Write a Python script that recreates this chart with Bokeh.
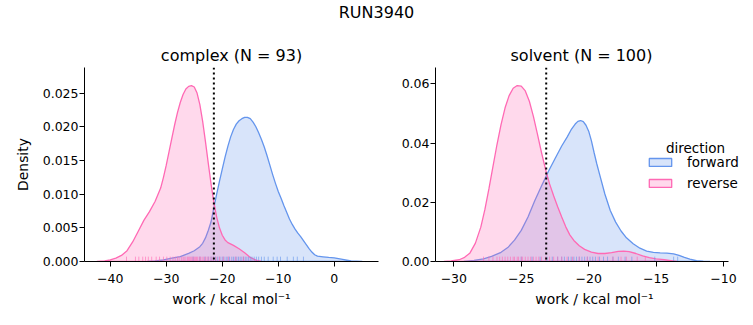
from bokeh.plotting import figure
from bokeh.models import Range1d, FixedTicker, Span, Legend, LegendItem, Div, Label, NumeralTickFormatter
from bokeh.layouts import column, row
from bokeh.embed import file_html
from bokeh.resources import INLINE

# ---------------- data ----------------
suptitle = "RUN3940"
panel_titles = ["complex (N = 93)", "solvent (N = 100)"]
x_label = "work / kcal mol\u207b\u00b9"
y_label = "Density"
legend_title = "direction"
directions = ["forward", "reverse"]

# KDE curves (work, density)
complex_forward_x = [-33.4, -32.0, -30.5, -29.0, -27.5, -26.0, -25.0, -24.0, -23.5, -23.0, -22.5, -22.0,
                     -21.5, -21.0, -20.5, -20.0, -19.5, -19.0, -18.5, -18.0, -17.5, -17.0, -16.5, -16.0,
                     -15.5, -15.0, -14.5, -14.0, -13.5, -13.0, -12.5, -12.0, -11.5, -11.0, -10.5, -10.0,
                     -9.5, -9.0, -8.5, -8.0, -7.5, -7.0, -6.5, -6.0, -5.5, -5.0, -4.5, -4.0, -3.5, -3.0,
                     -2.0, -1.0, 0.0, 1.0, 2.0, 3.0, 5.0]
complex_forward_d = [0.0, 0.0001, 0.00025, 0.0005, 0.00074, 0.0012, 0.0016, 0.0022, 0.0027, 0.0035, 0.0046, 0.0059,
                     0.0080, 0.0100, 0.0119, 0.0137, 0.0155, 0.0171, 0.0185, 0.0196, 0.0204, 0.0209, 0.0212, 0.0214,
                     0.0214, 0.0212, 0.0207, 0.0200, 0.0191, 0.0181, 0.0170, 0.0157, 0.0143, 0.0129, 0.0116, 0.0104,
                     0.0094, 0.0083, 0.0073, 0.0063, 0.0055, 0.0048, 0.0042, 0.0037, 0.0031, 0.0025, 0.0019, 0.0014,
                     0.0010, 0.0008, 0.0007, 0.0006, 0.00055, 0.0004, 0.00025, 0.0001, 0.0]
complex_reverse_x = [-42.4, -41.0, -40.0, -39.0, -38.0, -37.0, -36.0, -35.0, -34.0, -33.0, -32.0, -31.0,
                     -30.5, -30.0, -29.5, -29.0, -28.5, -28.0, -27.5, -27.0, -26.5, -26.0, -25.5, -25.0,
                     -24.5, -24.0, -23.5, -23.0, -22.5, -22.0, -21.5, -21.0, -20.5, -20.0, -19.5, -19.0,
                     -18.0, -17.0, -16.0, -15.0, -14.0, -13.0]
complex_reverse_d = [0.0, 0.0001, 0.00025, 0.0005, 0.0009, 0.0016, 0.0029, 0.0045, 0.0061, 0.0074, 0.0089, 0.0109,
                     0.0125, 0.0143, 0.0163, 0.0183, 0.0203, 0.0221, 0.0236, 0.0248, 0.0256, 0.0260, 0.0261, 0.0259,
                     0.0250, 0.0233, 0.0208, 0.0178, 0.0146, 0.0115, 0.0088, 0.0066, 0.0050, 0.0039, 0.0032, 0.0028,
                     0.0024, 0.0019, 0.0013, 0.0006, 0.0002, 0.0]
solvent_forward_x = [-29.26, -28.5, -27.8, -27.2, -26.5, -26.0, -25.5, -25.0, -24.5, -24.0, -23.5, -23.0,
                     -22.5, -22.0, -21.6, -21.3, -21.0, -20.8, -20.6, -20.4, -20.2, -20.0, -19.8, -19.6,
                     -19.4, -19.2, -18.8, -18.4, -18.0, -17.6, -17.2, -16.7, -16.2, -15.7, -15.2, -14.7,
                     -14.2, -13.7, -13.3, -12.9, -12.5, -12.0, -11.5, -11.0]
solvent_forward_d = [0.0, 0.0004, 0.0009, 0.0017, 0.0031, 0.0047, 0.0072, 0.0105, 0.0150, 0.0205, 0.0255, 0.0303,
                     0.0347, 0.0390, 0.0420, 0.0445, 0.0464, 0.0473, 0.0476, 0.0472, 0.0460, 0.0440, 0.0408, 0.0368,
                     0.0330, 0.0296, 0.0228, 0.0172, 0.0133, 0.0103, 0.0080, 0.0060, 0.0045, 0.0035, 0.0031, 0.0029,
                     0.0028, 0.0026, 0.0021, 0.0014, 0.0008, 0.0003, 0.0001, 0.0]
solvent_reverse_x = [-30.74, -30.2, -29.6, -29.2, -28.8, -28.4, -28.0, -27.7, -27.4, -27.1, -26.8, -26.5,
                     -26.2, -25.9, -25.6, -25.3, -25.0, -24.7, -24.4, -24.1, -23.8, -23.5, -23.2, -22.9,
                     -22.6, -22.3, -22.0, -21.7, -21.4, -21.1, -20.7, -20.3, -19.8, -19.3, -18.8, -18.3,
                     -17.8, -17.4, -17.0, -16.5, -16.0, -15.5, -15.0, -14.4, -13.9, -13.45]
solvent_reverse_d = [0.0, 0.0002, 0.0006, 0.0014, 0.0029, 0.0062, 0.0116, 0.0175, 0.0245, 0.0320, 0.0395, 0.0462,
                     0.0519, 0.0560, 0.0585, 0.0594, 0.0592, 0.0576, 0.0541, 0.0490, 0.0430, 0.0368, 0.0311, 0.0262,
                     0.0222, 0.0185, 0.0150, 0.0117, 0.0090, 0.0071, 0.0053, 0.0041, 0.0032, 0.0027, 0.0027, 0.0030,
                     0.0034, 0.0035, 0.0033, 0.0027, 0.0019, 0.0013, 0.0009, 0.0006, 0.0003, 0.0]

# individual works (rug)
complex_forward_rug = [-25.2, -24.0, -23.1, -22.5, -22.0, -21.6, -21.2, -20.8, -20.4, -20.0, -19.7, -19.3,
                       -19.0, -18.7, -18.3, -18.0, -17.7, -17.4, -17.1, -16.8, -16.5, -16.2, -15.9, -15.6,
                       -15.3, -15.0, -14.7, -14.3, -13.9, -13.5, -13.0, -12.5, -11.8, -10.9, -10.2, -9.6,
                       -8.4, -7.3, -6.6, -5.5]
complex_reverse_rug = [-37.1, -35.5, -34.9, -34.2, -33.7, -33.2, -32.6, -31.8, -31.2, -30.5, -29.9, -29.3,
                       -28.8, -28.4, -28.0, -27.7, -27.3, -27.0, -26.8, -26.5, -26.2, -26.0, -25.8, -25.6,
                       -25.4, -25.2, -25.0, -24.8, -24.6, -24.4, -24.1, -23.9, -23.6, -23.3, -23.0, -22.7,
                       -22.4, -22.0, -21.6, -21.1, -20.5, -19.8, -18.9, -17.6, -16.2]
solvent_forward_rug = [-25.0, -24.2, -23.6, -23.1, -22.7, -22.3, -22.0, -21.8, -21.5, -21.3, -21.1, -20.9,
                       -20.7, -20.5, -20.3, -20.1, -19.9, -19.7, -19.5, -19.2, -18.9, -18.6, -18.2, -17.8,
                       -17.3, -16.8, -15.1, -13.7, -13.4]
solvent_reverse_rug = [-27.8, -27.4, -27.1, -26.8, -26.6, -26.4, -26.2, -26.0, -25.8, -25.6, -25.5, -25.3,
                       -25.2, -25.0, -24.9, -24.7, -24.5, -24.3, -24.1, -23.9, -23.7, -23.5, -23.2, -22.9,
                       -22.6, -22.3, -22.0, -21.6, -21.2, -20.7, -20.1, -19.3, -18.2, -17.6, -17.2, -16.4,
                       -15.8]

complex_marker = -21.5
solvent_marker = -23.15

complex_xlim = (-44.6, 7.9)
complex_ylim = (0.0, 0.0288)
solvent_xlim = (-31.36, -9.63)
solvent_ylim = (0.0, 0.0655)
complex_xticks = [-40, -30, -20, -10, 0]
complex_yticks = [0.0, 0.005, 0.010, 0.015, 0.020, 0.025]
solvent_xticks = [-30, -25, -20, -15, -10]
solvent_yticks = [0.00, 0.02, 0.04, 0.06]

# ---------------- style ----------------
FONT = "DejaVu Sans"
COLORS = {"forward": "#6495ED", "reverse": "#FF69B4"}
TICK_SIZE = "12.5px"
LABEL_SIZE = "13.9px"
TITLE_SIZE = "16px"
FIG_H = 295


def minus(v):
    s = ("%g" % abs(v))
    return ("\u2212" + s) if v < 0 else s


def make_panel(title, curves, rugs, marker, xlim, ylim, xticks, yticks, yfmt, width, bl, br, ylab,
               x_extra=0.0, title_align="center", title_offset=0):
    p = figure(width=width, height=FIG_H, x_range=Range1d(xlim[0], xlim[1] + x_extra),
               y_range=Range1d(*ylim),
               output_backend="svg", toolbar_location=None,
               min_border_left=bl, min_border_right=br, min_border_top=37, min_border_bottom=64)
    p.title.text = title
    p.title.align = title_align
    p.title.offset = title_offset
    p.title.text_font = FONT
    p.title.text_font_size = TITLE_SIZE
    p.title.text_font_style = "normal"
    p.title.text_color = "black"
    p.title.standoff = 6
    p.xgrid.visible = False
    p.ygrid.visible = False
    p.outline_line_color = None

    rends = {}
    for d in directions:
        xs, ys = curves[d]
        rends[d] = p.patch(xs, ys, fill_color=COLORS[d], fill_alpha=0.25,
                           line_color=COLORS[d], line_width=1.3)
    h = 0.025 * ylim[1]
    for d in directions:
        r = rugs[d]
        p.segment(x0=r, y0=[0] * len(r), x1=r, y1=[h] * len(r),
                  line_color=COLORS[d], line_alpha=0.6, line_width=1)

    p.add_layout(Span(location=marker, dimension="height", line_color="black",
                      line_dash="2 3", line_width=2))

    for ax in (p.xaxis[0], p.yaxis[0]):
        ax.axis_line_color = "black"
        ax.axis_line_width = 1
        ax.major_tick_line_color = "black"
        ax.major_tick_out = 5
        ax.major_tick_in = 0
        ax.minor_tick_line_color = None
        ax.major_label_text_font = FONT
        ax.major_label_text_font_size = TICK_SIZE
        ax.major_label_text_color = "black"
        ax.axis_label_text_font = FONT
        ax.axis_label_text_font_size = LABEL_SIZE
        ax.axis_label_text_font_style = "normal"
        ax.axis_label_text_color = "black"
    p.xaxis.bounds = xlim
    p.xaxis.ticker = FixedTicker(ticks=xticks)
    p.xaxis.major_label_overrides = {t: minus(t) for t in xticks}
    p.xaxis.major_label_standoff = 7
    p.xaxis.axis_label = x_label
    p.xaxis.axis_label_standoff = 5
    p.yaxis.ticker = FixedTicker(ticks=yticks)
    p.yaxis.formatter = NumeralTickFormatter(format=yfmt)
    p.yaxis.major_label_standoff = 1
    if ylab:
        p.yaxis.axis_label = ylab
        p.yaxis.axis_label_standoff = 9
    return p, rends


p1, _ = make_panel(panel_titles[0],
                   {"forward": (complex_forward_x, complex_forward_d),
                    "reverse": (complex_reverse_x, complex_reverse_d)},
                   {"forward": complex_forward_rug, "reverse": complex_reverse_rug},
                   complex_marker, complex_xlim, complex_ylim, complex_xticks, complex_yticks,
                   "0.000", 395, 84, 17, y_label)
# the solvent frame runs to the page edge so that the legend is not cut; the axis stops at xlim
p2, r2 = make_panel(panel_titles[1],
                    {"forward": (solvent_forward_x, solvent_forward_d),
                     "reverse": (solvent_reverse_x, solvent_reverse_d)},
                    {"forward": solvent_forward_rug, "reverse": solvent_reverse_rug},
                    solvent_marker, solvent_xlim, solvent_ylim, solvent_xticks, solvent_yticks,
                    "0.00", 358, 40, 0, None, x_extra=25 / 13.49,
                    title_align="left", title_offset=75)

legend = Legend(items=[LegendItem(label=d, renderers=[r2[d]]) for d in directions],
                location=(211, 68), padding=0, spacing=1, margin=0,
                glyph_width=28, glyph_height=10, label_height=20, label_standoff=13,
                label_text_font=FONT, label_text_font_size="13.5px", label_text_color="black",
                border_line_alpha=0, background_fill_alpha=0)
p2.add_layout(legend)
p2.add_layout(Label(x=260, y=114, x_units="screen", y_units="screen", text=legend_title,
                    text_align="center", text_baseline="alphabetic", text_font=FONT,
                    text_font_size="13.5px", text_color="black"))

head = Div(text=('<div style="width:753px;text-align:center;font-family:\'DejaVu Sans\';'
                 'font-size:16px;line-height:20px;padding-top:3px;color:black;">%s</div>' % suptitle),
           width=753, height=325 - FIG_H, margin=0)

layout = column(head, row(p1, p2, spacing=0), spacing=0)
open("out.html", "w").write(file_html(layout, INLINE))
